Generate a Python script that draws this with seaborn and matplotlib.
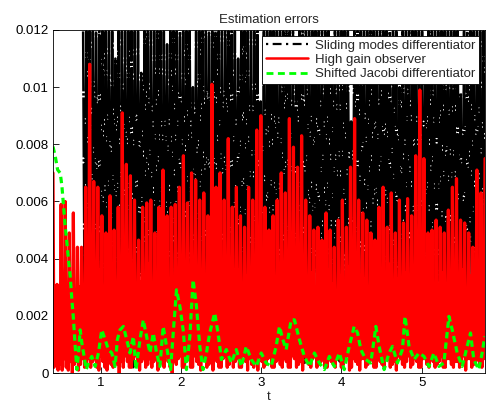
import numpy as np
import matplotlib
matplotlib.use("Agg")
import matplotlib.pyplot as plt
from matplotlib.lines import Line2D
import seaborn as sns

# ─── DATA (errors in units of 1e-3) ─────────────────────────────────────────

t_min, t_max = 0.404, 5.79
black_start = 0.78

# sliding modes differentiator: chattering between low values and the top of the view
sliding_e = [
    11.95, 1.2, 11.95, 2.5, 11.95, 0.8, 11.95, 3.0, 11.95, 1.5,
    11.95, 2.2, 11.95, 0.5, 11.95, 2.8, 11.95, 1.0, 11.95, 3.2,
    11.0, 1.8, 11.95, 0.6, 11.95, 2.4, 11.95, 1.3, 11.95, 2.9,
    11.95, 0.2, 11.95, 2.0, 11.95, 3.4, 10.5, 1.1, 11.95, 2.6,
    11.95, 1.7, 11.95, 0.9, 11.95, 3.1, 11.95, 2.1, 11.95, 0.4,
    11.95, 2.7, 11.5, 1.4, 11.95, 3.3, 11.95, 0.7, 11.95, 2.3,
    11.95, 1.9, 11.95, 0.3, 11.95, 2.9, 11.95, 1.6, 10.0, 3.5,
    11.95, 1.0, 11.95, 2.2, 11.95, 0.5, 11.95, 2.8, 11.95, 1.3,
    11.95, 3.0, 11.95, 0.8, 11.95, 2.4, 11.95, 1.5, 11.95, 3.6,
    11.95, 0.6, 11.95, 2.0, 11.95, 1.2, 11.0, 3.2, 11.95, 0.9,
    11.95, 2.6, 11.95, 1.8, 11.95, 0.4, 11.95, 2.9, 11.95, 1.1,
    9.5, 3.3, 11.95, 0.7, 11.95, 2.5, 11.95, 1.6, 11.95, 3.0,
    11.95, 0.5, 11.95, 2.1, 11.95, 1.4, 11.95, 3.4, 11.95, 0.8,
    11.95, 2.7, 10.5, 1.0, 11.95, 3.1, 11.95, 0.3, 11.95, 2.3,
    11.95, 1.7, 11.95, 3.5, 11.95, 0.6, 11.95, 2.0, 11.95, 1.2,
    11.95, 2.8, 11.95, 0.9, 11.5, 3.2, 11.95, 1.5, 11.95, 0.4,
    11.95, 2.4, 11.95, 1.9, 11.95, 3.0, 8.8, 0.7, 11.95, 2.6,
    11.95, 1.3, 11.95, 3.3, 11.95, 0.5, 11.95, 2.2, 11.95, 1.0,
    11.95, 2.9, 11.95, 0.8, 11.95, 3.4, 11.95, 1.6, 11.95, 2.1,
    11.95, 0.6, 11.95, 3.1, 11.95, 1.4, 10.0, 2.5, 11.95, 0.9,
    11.95, 3.6, 11.95, 1.1, 11.95, 2.3, 11.95, 0.4, 11.95, 2.8,
    11.95, 1.8, 11.0, 3.0, 11.95, 0.7, 11.95, 2.4, 11.95, 1.2,
    11.95, 3.2, 11.95, 0.5, 11.95, 2.0, 11.95, 1.5, 11.95, 2.7,
    11.95, 0.8, 11.95, 3.4, 9.8, 1.0, 11.95, 2.2, 11.95, 1.7,
    11.95, 2.9, 11.95, 0.6, 11.95, 3.1, 11.95, 1.3, 11.95, 2.5,
]

# high gain observer: peak, trough, small peak, trough, ...
high_gain_e = [
    7.0, 0.2, 2.8, 0.4,  3.1, 0.1, 2.6, 0.3,  5.9, 0.1, 3.1, 0.5,
    6.0, 0.2, 2.7, 0.1,  4.9, 0.4, 3.3, 0.0,  5.6, 0.3, 2.5, 0.4,
    4.4, 0.1, 3.0, 0.3,  4.4, 0.5, 2.8, 0.2,  6.5, 0.3, 3.2, 0.5,
    10.8, 0.2, 3.5, 0.4, 6.7, 0.5, 2.9, 0.2,  6.5, 0.1, 3.6, 0.6,
    5.5, 0.4, 2.6, 0.2,  4.9, 0.1, 3.1, 0.4,  6.2, 0.3, 3.7, 0.2,
    5.0, 0.5, 2.8, 0.3,  5.8, 0.0, 3.3, 0.4,  9.1, 0.2, 3.9, 0.6,
    7.3, 0.4, 3.1, 0.2,  6.9, 0.2, 3.5, 0.5,  6.05, 0.6, 2.8, 0.3,
    4.65, 0.1, 3.2, 0.4, 5.8, 0.5, 2.7, 0.2,  5.95, 0.3, 3.8, 0.5,
    6.05, 0.2, 3.0, 0.4, 4.9, 0.5, 3.4, 0.1,  5.8, 0.3, 2.9, 0.5,
    7.1, 0.2, 3.6, 0.6,  5.5, 0.4, 2.6, 0.2,  5.8, 0.0, 3.1, 0.4,
    5.9, 0.3, 3.3, 0.5,  6.5, 0.6, 2.8, 0.2,  7.6, 0.2, 3.7, 0.4,
    5.95, 0.5, 3.0, 0.2, 7.0, 0.2, 3.4, 0.6,  6.75, 0.4, 2.9, 0.3,
    6.05, 0.1, 3.6, 0.5, 6.3, 0.5, 3.0, 0.2,  5.5, 0.3, 2.7, 0.4,
    10.1, 0.1, 3.5, 0.6, 6.5, 0.4, 3.1, 0.2,  7.0, 0.2, 3.8, 0.5,
    6.05, 0.6, 2.8, 0.2, 8.2, 0.3, 3.3, 0.5,  5.8, 0.2, 3.0, 0.4,
    6.5, 0.5, 3.6, 0.2,  5.5, 0.2, 2.9, 0.6,  5.1, 0.4, 3.4, 0.1,
    6.5, 0.5, 3.0, 0.3,  6.05, 0.2, 3.7, 0.4, 8.5, 0.1, 3.2, 0.6,
    9.0, 0.4, 3.5, 0.2,  5.8, 0.3, 2.8, 0.5,  5.0, 0.6, 3.3, 0.2,
    5.5, 0.2, 3.0, 0.4,  6.05, 0.5, 3.8, 0.3, 7.0, 0.2, 3.1, 0.5,
    6.3, 0.4, 3.6, 0.2,  8.9, 0.2, 3.0, 0.6,  7.9, 0.5, 3.4, 0.2,
    7.2, 0.3, 3.9, 0.4,  8.3, 0.1, 3.2, 0.6,  6.05, 0.4, 2.8, 0.3,
    5.5, 0.2, 3.5, 0.5,  5.0, 0.6, 3.0, 0.2,  5.1, 0.3, 3.3, 0.4,
    4.65, 0.5, 2.9, 0.2, 5.6, 0.2, 3.6, 0.5,  5.0, 0.4, 3.1, 0.3,
    4.4, 0.2, 2.8, 0.6,  5.35, 0.5, 3.4, 0.2, 6.05, 0.3, 3.0, 0.4,
    5.1, 0.6, 3.7, 0.1,  7.2, 0.2, 3.2, 0.5,  8.9, 0.4, 3.5, 0.3,
    6.05, 0.1, 2.9, 0.5, 5.6, 0.5, 3.3, 0.2,  5.35, 0.3, 3.0, 0.4,
    4.9, 0.6, 3.6, 0.2,  4.65, 0.2, 2.8, 0.6, 5.8, 0.4, 3.4, 0.3,
    6.5, 0.2, 3.1, 0.5,  5.1, 0.5, 3.8, 0.2,  6.3, 0.3, 3.0, 0.4,
    4.9, 0.1, 3.3, 0.6,  6.05, 0.5, 2.8, 0.3, 5.25, 0.2, 3.5, 0.4,
    6.1, 0.6, 3.0, 0.2,  5.5, 0.3, 3.6, 0.5,  7.6, 0.4, 3.2, 0.2,
    9.9, 0.2, 3.7, 0.5,  7.5, 0.5, 2.9, 0.3,  4.9, 0.2, 3.4, 0.6,
    5.0, 0.4, 3.1, 0.2,  5.35, 0.3, 2.8, 0.4, 5.1, 0.6, 3.5, 0.2,
    4.9, 0.2, 3.0, 0.5,  5.7, 0.5, 3.3, 0.3,  6.5, 0.2, 3.8, 0.4,
    6.8, 0.4, 3.1, 0.2,  5.35, 0.3, 3.6, 0.6, 5.25, 0.1, 2.9, 0.5,
    4.9, 0.5, 3.4, 0.2,  4.4, 0.3, 3.1, 0.4,  7.1, 0.5, 2.8, 0.3,
    6.3, 0.2, 3.5, 0.5,  7.5,
]

# shifted Jacobi differentiator
jacobi_t = [
    0.404, 0.433, 0.462, 0.495, 0.516, 0.536, 0.557, 0.578, 0.598, 0.619,
    0.640, 0.660, 0.681, 0.702, 0.723, 0.743, 0.764, 0.785, 0.818, 0.847,
    0.888, 0.930, 0.971, 1.012, 1.054, 1.095, 1.137, 1.178, 1.207, 1.240,
    1.282, 1.323, 1.364, 1.406, 1.439, 1.489, 1.530, 1.571, 1.613, 1.654,
    1.696, 1.737, 1.778, 1.820, 1.870, 1.903, 1.944, 1.986, 2.027, 2.068,
    2.110, 2.151, 2.193, 2.234, 2.275, 2.317, 2.358, 2.420, 2.462, 2.503,
    2.565, 2.627, 2.689, 2.752, 2.814, 2.876, 2.938, 3.000, 3.062, 3.124,
    3.186, 3.228, 3.269, 3.311, 3.373, 3.414, 3.476, 3.538, 3.600, 3.663,
    3.725, 3.787, 3.849, 3.911, 3.973, 4.035, 4.097, 4.159, 4.201, 4.242,
    4.304, 4.366, 4.429, 4.470, 4.532, 4.594, 4.636, 4.698, 4.760, 4.793,
    4.843, 4.905, 4.967, 5.029, 5.091, 5.153, 5.215, 5.277, 5.340, 5.381,
    5.443, 5.505, 5.547, 5.609, 5.650, 5.712, 5.754, 5.787,
]
jacobi_e = [
    7.92, 7.57, 7.11, 6.99, 6.52, 5.83, 5.13, 4.54, 3.96, 3.38,
    2.56, 1.86, 0.93, 0.12, 0.70, 1.51, 1.05, 0.70, 0.12, 0.35,
    0.58, 0.23, 0.70, 1.51, 1.17, 0.82, 0.70, 0.23, 1.17, 1.51,
    1.63, 1.17, 0.70, 1.28, 0.12, 1.17, 1.86, 1.28, 0.70, 1.40,
    0.70, 0.23, 1.63, 0.93, 0.12, 1.40, 2.91, 2.33, 1.51, 0.12,
    1.28, 3.26, 2.33, 0.93, 0.12, 0.70, 1.40, 2.10, 1.40, 0.47,
    0.82, 0.35, 0.82, 0.23, 0.93, 0.47, 0.23, 0.70, 0.35, 0.23,
    0.93, 1.63, 1.17, 0.82, 1.86, 1.86, 1.17, 0.58, 0.23, 0.70,
    0.35, 0.12, 0.58, 0.23, 0.70, 0.12, 0.93, 1.63, 1.40, 0.82,
    0.47, 0.35, 1.63, 0.93, 0.12, 0.70, 0.93, 0.35, 0.82, 1.98,
    0.93, 0.47, 0.70, 0.58, 0.23, 0.70, 0.23, 0.35, 1.98, 1.51,
    0.70, 0.23, 0.70, 1.40, 0.47, 0.12, 0.70, 1.28,
]

labels = ["Sliding modes differentiator", "High gain observer",
          "Shifted Jacobi differentiator"]

# ─── PLOT ───────────────────────────────────────────────────────────────────

sns.set_theme(style="white")
plt.rcParams["font.family"] = ["Liberation Sans", "DejaVu Sans"]
plt.rcParams["font.size"] = 9.5

sliding_t = np.linspace(black_start, t_max, len(sliding_e))
high_gain_t = np.linspace(t_min, t_max, len(high_gain_e))
scale = 1e-3

fig = plt.figure(figsize=(4.86, 4.05), dpi=100)
ax = fig.add_axes([0.109, 0.079, 0.889, 0.847])

# long dashes with tiny gaps -> white speckle inside the black chattering
sns.lineplot(x=sliding_t, y=np.array(sliding_e) * scale, ax=ax, color="black",
             lw=1.8, linestyle=(0, (24, 0.7, 1, 0.7)), sort=False, estimator=None)
sns.lineplot(x=high_gain_t, y=np.array(high_gain_e) * scale, ax=ax, color="#FF0000",
             lw=2.3, sort=False, estimator=None)
sns.lineplot(x=jacobi_t, y=np.array(jacobi_e) * scale, ax=ax, color="#00FF00",
             lw=2.3, linestyle=(0, (2.0, 1.3)), sort=False, estimator=None)

ax.set_xlim(t_min, t_max)
ax.set_ylim(0, 0.012)
ax.set_xticks([1, 2, 3, 4, 5])
ax.set_yticks([0, 0.002, 0.004, 0.006, 0.008, 0.01, 0.012])
ax.set_yticklabels(["0", "0.002", "0.004", "0.006", "0.008", "0.01", "0.012"])
ax.tick_params(direction="in", length=4, width=0.6, colors="black",
               labelsize=9.5, top=False, right=False, bottom=True, left=True, pad=3)
for sp in ax.spines.values():
    sp.set_color("black")
    sp.set_linewidth(0.6)

ax.set_title("Estimation errors", fontsize=9.5, pad=5)
ax.set_xlabel("t", fontsize=9.5, labelpad=1)
ax.set_ylabel("")

handles = [
    Line2D([], [], color="black", lw=1.6, linestyle=(0, (1, 2, 4, 2))),
    Line2D([], [], color="#FF0000", lw=1.8),
    Line2D([], [], color="#00FF00", lw=2.0, linestyle=(0, (2.5, 1.6))),
]
leg = ax.legend(handles, labels, loc="upper right", fontsize=9.5, frameon=True,
                fancybox=False, handlelength=3.2, labelspacing=0.15, borderpad=0.3,
                handletextpad=0.5, borderaxespad=0.3, bbox_to_anchor=(0.995, 0.995))
leg.get_frame().set_edgecolor("black")
leg.get_frame().set_linewidth(0.6)
leg.get_frame().set_alpha(1.0)

fig.savefig("out.png", dpi=100)
